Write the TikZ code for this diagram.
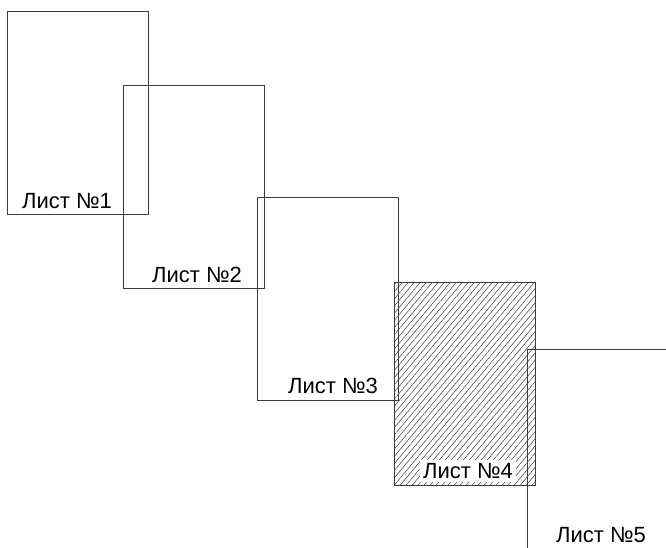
\documentclass[tikz,border=0pt]{standalone}
\usepackage{fontspec}
\setmainfont{Liberation Sans}
\usetikzlibrary{positioning,patterns.meta}
\definecolor{inkgray}{RGB}{60,60,60}

\begin{document}
\begin{tikzpicture}[x=1pt, y=-1pt]
  \tikzstyle{sheet}=[rectangle, draw=inkgray, line width=0.7pt, minimum width=141pt, minimum height=203pt, anchor=north west, inner sep=0pt]
  \tikzstyle{lbl}=[anchor=base west, inner sep=0pt, text=black, font=\fontsize{22}{26}\selectfont]
  \useasboundingbox (0,0) rectangle (666,547);
  \clip (0,0) rectangle (666,547);
  % hatched sheet first, the others go over it
  \node[sheet, pattern={Lines[angle=50,distance=4.6pt,line width=0.5pt]}, pattern color=inkgray] (s4) at (394,282) {};
  \node[sheet] (s1) at (7,11) {};
  \node[sheet] (s2) at (123,85) {};
  \node[sheet] (s3) at (257,197) {};
  \node[sheet] (s5) at (527,349) {};
  \node[lbl] (l1) at ([shift={(15pt,6pt)}]s1.south west) {Лист №1};
  \node[lbl] (l2) at ([shift={(29pt,6pt)}]s2.south west) {Лист №2};
  \node[lbl] (l3) at ([shift={(31pt,7pt)}]s3.south west) {Лист №3};
  \node[lbl, fill=white, inner sep=3pt] (l4) at ([shift={(26pt,7pt)}]s4.south west) {Лист №4};
  \node[lbl] (l5) at ([shift={(29pt,10pt)}]s5.south west) {Лист №5};
\end{tikzpicture}
\end{document}
